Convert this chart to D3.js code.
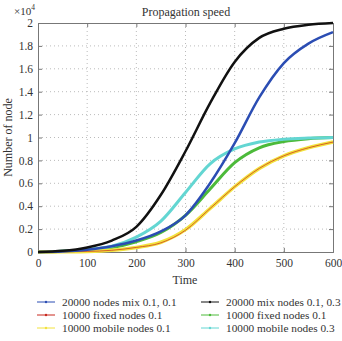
<!DOCTYPE html>
<html>
<head>
<meta charset="utf-8">
<script src="https://cdn.jsdelivr.net/npm/d3@7"></script>
<style>
body { margin: 0; background: #fff; }
</style>
</head>
<body>
<div id="graph"></div>
<script>
// time axis samples
var times = [0, 50, 100, 150, 200, 250, 300, 350, 400, 450, 500, 550, 600]
var mix01_01 = [0, 50, 200, 500, 1000, 1800, 3200, 6000, 9500, 13500, 16500, 18200, 19200]
var mix01_03 = [0, 100, 400, 1000, 2200, 5000, 8800, 13000, 16600, 18700, 19500, 19850, 20000]
var fixed01_red = [0, 20, 50, 150, 400, 800, 1900, 3800, 5700, 7300, 8400, 9100, 9600]
var fixed01_green = [0, 60, 200, 400, 900, 1700, 3200, 5500, 7800, 9100, 9650, 9900, 10000]
var mobile01 = [0, 20, 50, 150, 400, 850, 1950, 3800, 5700, 7300, 8400, 9100, 9600]
var mobile03 = [0, 60, 200, 500, 1300, 2700, 5200, 7700, 9000, 9600, 9850, 9950, 10000]
var xTicks = [0, 100, 200, 300, 400, 500, 600]
var yTicks = [0, 2000, 4000, 6000, 8000, 10000, 12000, 14000, 16000, 18000, 20000]

var series = [
    {name: "20000 nodes mix 0.1, 0.1", values: mix01_01, color: "#2b4db3", width: 2.5},
    {name: "10000 fixed nodes 0.1", values: fixed01_red, color: "#c8281e", width: 0.7},
    {name: "10000 mobile nodes 0.1", values: mobile01, color: "#f2e23c", width: 3.5},
    {name: "20000 mix nodes 0.1, 0.3", values: mix01_03, color: "#111111", width: 2.5},
    {name: "10000 fixed nodes 0.1", values: fixed01_green, color: "#4cba3a", width: 3},
    {name: "10000 mobile nodes 0.3", values: mobile03, color: "#63d6d2", width: 3}
]
// draw order: green, cyan, yellow, red, blue, black
var drawOrder = [4, 5, 2, 1, 0, 3]
var FONT = "'Liberation Serif', serif"

var W = 342, H = 341
var margin = {left: 38, right: 9, top: 23, bottom: 89}

var svg = d3.select("#graph")
    .append("svg")
        .attr("width", W)
        .attr("height", H)
        .style("font-family", FONT)

var x = d3.scaleLinear().domain([0, 600]).range([margin.left, W - margin.right])
var y = d3.scaleLinear().domain([0, 20000]).range([H - margin.bottom, margin.top])

// grid
svg.append("g").selectAll("line").data(xTicks.slice(1, -1)).enter().append("line")
    .attr("x1", d => x(d)).attr("x2", d => x(d))
    .attr("y1", y(0)).attr("y2", y(20000))
    .attr("stroke", "#aaa").attr("stroke-width", 0.8).attr("stroke-dasharray", "1,3")
svg.append("g").selectAll("line").data(yTicks.slice(1, -1)).enter().append("line")
    .attr("x1", x(0)).attr("x2", x(600))
    .attr("y1", d => y(d)).attr("y2", d => y(d))
    .attr("stroke", "#aaa").attr("stroke-width", 0.8).attr("stroke-dasharray", "1,3")

// axes
svg.append("g")
    .attr("transform", "translate(0," + y(0) + ")")
    .call(d3.axisBottom(x).tickValues(xTicks).tickSize(-4).tickPadding(7))
svg.append("g")
    .attr("transform", "translate(" + x(0) + ",0)")
    .call(d3.axisLeft(y).tickValues(yTicks).tickSize(-4).tickPadding(5)
        .tickFormat(d => d3.format("")(d / 10000)))
svg.append("g")
    .attr("transform", "translate(0," + y(20000) + ")")
    .call(d3.axisTop(x).tickValues(xTicks).tickSize(-4).tickFormat(""))
svg.append("g")
    .attr("transform", "translate(" + x(600) + ",0)")
    .call(d3.axisRight(y).tickValues(yTicks).tickSize(-4).tickFormat(""))
svg.selectAll(".domain, .tick line").attr("stroke", "#777")
svg.selectAll(".tick text").attr("font-size", 11.5).attr("fill", "#333")
svg.selectAll("text").style("font-family", FONT)

// curves
var line = d3.line()
    .x((d, i) => x(times[i]))
    .y(d => y(d))
    .curve(d3.curveMonotoneX)
drawOrder.forEach(function(k) {
    var s = series[k]
    svg.append("path")
        .attr("d", line(s.values))
        .attr("fill", "none")
        .attr("stroke", s.color)
        .attr("stroke-width", s.width)
        .attr("stroke-linejoin", "round")
})

// labels
svg.append("text").attr("x", 186).attr("y", 16).attr("text-anchor", "middle")
    .attr("font-size", 12).attr("fill", "#333").text("Propagation speed")
var mult = svg.append("text").attr("x", 14).attr("y", 15).attr("font-size", 11).attr("fill", "#333")
mult.append("tspan").text("×10")
mult.append("tspan").attr("dy", -5).attr("font-size", 7.5).text("4")
svg.append("text").attr("transform", "translate(12," + ((y(0) + y(20000)) / 2) + ") rotate(-90)")
    .attr("text-anchor", "middle").attr("font-size", 12).attr("fill", "#333").text("Number of node")
svg.append("text").attr("x", 185).attr("y", 284).attr("text-anchor", "middle")
    .attr("font-size", 12).attr("fill", "#333").text("Time")

// legend
var legend = svg.append("g")
series.forEach(function(s, i) {
    var col = Math.floor(i / 3), row = i % 3
    var lx = col === 0 ? 37 : 201
    var ly = 302 + row * 13
    legend.append("line").attr("x1", lx).attr("x2", lx + 18).attr("y1", ly).attr("y2", ly)
        .attr("stroke", s.color).attr("stroke-width", 1)
    legend.append("circle").attr("cx", lx + 9).attr("cy", ly).attr("r", 1.2).attr("fill", s.color)
    legend.append("text").attr("x", lx + 25).attr("y", ly + 4).attr("font-size", 11.3)
        .attr("fill", "#333").text(s.name)
})
</script>
</body>
</html>
